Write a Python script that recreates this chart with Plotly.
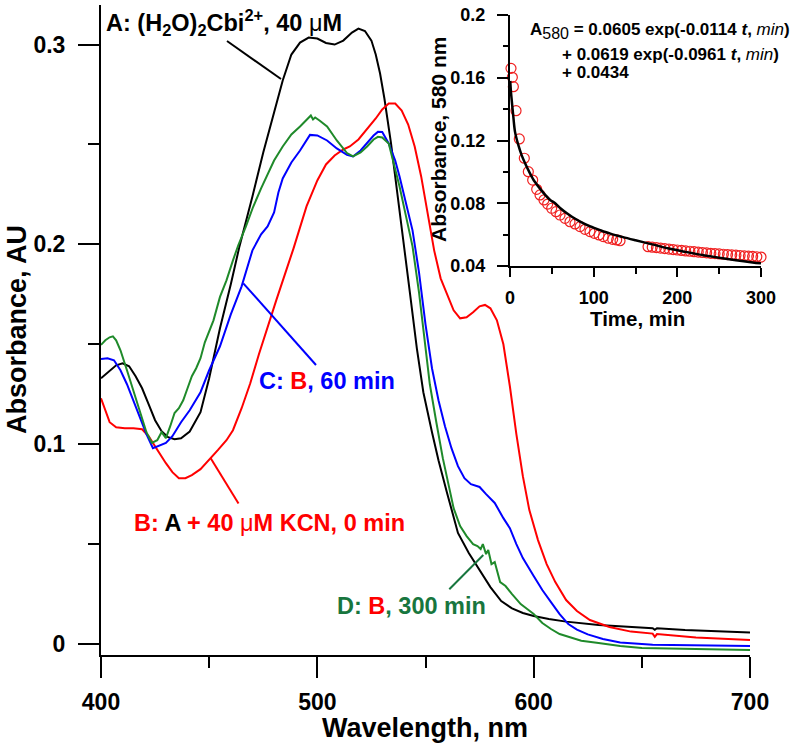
import plotly.graph_objects as go

# ---------------- data ----------------
wl_A = [400, 404, 407, 410, 413, 416, 419, 422, 425, 428, 431, 434, 437, 441, 446, 450, 455, 460, 464, 470, 475,
        480, 484, 488, 492, 496, 500, 504, 508, 512, 516, 519, 522, 525, 527, 529, 531, 534, 537, 540, 543, 546,
        549, 553, 556, 560, 565, 570, 575, 580, 585, 590, 595, 600, 607, 615, 630, 645, 655, 656, 657, 670, 685, 700]
abs_A = [0.133, 0.137, 0.1395, 0.1405, 0.139, 0.134, 0.128, 0.120, 0.112, 0.1065, 0.1035, 0.1025, 0.103, 0.1063,
         0.116, 0.133, 0.158, 0.180, 0.199, 0.224, 0.246, 0.266, 0.282, 0.295, 0.301, 0.3035, 0.303, 0.3008, 0.300,
         0.302, 0.306, 0.308, 0.3068, 0.302, 0.295, 0.2855, 0.273, 0.251, 0.226, 0.201, 0.174, 0.148, 0.126, 0.106,
         0.092, 0.0755, 0.0556, 0.0455, 0.037, 0.0285, 0.0215, 0.0178, 0.0155, 0.014, 0.0125, 0.0112, 0.0095,
         0.0085, 0.0079, 0.0071, 0.0079, 0.007, 0.0063, 0.0057]

wl_B = [400, 402, 404, 407, 411, 415, 419, 422, 426, 430, 433, 436, 439, 442, 446, 450, 454, 458, 461, 465, 469,
        473, 477, 481, 485, 489, 495, 500, 504, 508, 512, 515, 519, 523, 527, 530, 533, 536, 539, 542, 545, 548,
        551, 554, 557, 560, 563, 566, 569, 572, 575, 577.5, 580, 583, 586, 589, 592, 595, 598, 602, 606, 610, 615,
        620, 626, 635, 645, 655, 656, 657, 675, 700]
abs_B = [0.123, 0.117, 0.111, 0.1085, 0.108, 0.108, 0.1075, 0.104, 0.097, 0.0905, 0.086, 0.083, 0.083, 0.0845,
         0.0875, 0.092, 0.097, 0.102, 0.107, 0.118, 0.1305, 0.145, 0.159, 0.172, 0.185, 0.198, 0.219, 0.232, 0.240,
         0.2445, 0.2475, 0.249, 0.2525, 0.2575, 0.263, 0.2675, 0.2705, 0.2705, 0.267, 0.260, 0.249, 0.234, 0.215,
         0.197, 0.183, 0.1745, 0.167, 0.163, 0.1635, 0.166, 0.169, 0.1697, 0.168, 0.162, 0.150, 0.129, 0.105, 0.084,
         0.067, 0.052, 0.040, 0.031, 0.022, 0.0165, 0.012, 0.0085, 0.0062, 0.0052, 0.0036, 0.005, 0.0032, 0.002]

wl_C = [400, 403, 406, 409, 412, 415, 418, 421, 424, 427, 430, 433, 437, 441, 446, 450, 455, 460, 465, 470, 474,
        477, 480, 482, 484, 488, 492, 496.6, 500, 504.5, 509, 513.7, 516.5, 520, 523, 526, 528, 530, 533, 536,
        538, 541, 544, 547, 550, 553, 556, 559, 562, 565, 568, 571, 575, 578, 582, 586, 589, 592, 595, 600, 604,
        608, 612, 616, 620, 625, 632, 640, 655, 700]
abs_C = [0.1426, 0.143, 0.142, 0.137, 0.130, 0.122, 0.114, 0.105, 0.098, 0.0995, 0.1006, 0.104, 0.111, 0.117,
         0.126, 0.137, 0.149, 0.165, 0.179, 0.197, 0.205, 0.209, 0.216, 0.226, 0.233, 0.241, 0.247, 0.2548, 0.2545,
         0.252, 0.248, 0.2448, 0.244, 0.247, 0.2507, 0.2545, 0.2563, 0.2562, 0.2505, 0.242, 0.234, 0.221, 0.207,
         0.186, 0.160, 0.138, 0.122, 0.109, 0.098, 0.089, 0.083, 0.080, 0.0786, 0.075, 0.0706, 0.063, 0.058, 0.050,
         0.043, 0.034, 0.027, 0.021, 0.015, 0.010, 0.0072, 0.0048, 0.0025, 0.0008, -0.0004, -0.001]

wl_D = [400, 402, 404, 405.5, 407, 409, 412, 415, 418, 421, 423.5, 426, 428, 430, 432, 434, 436, 438, 440, 442,
        444, 446, 448, 450, 452, 455, 458, 461, 463.5, 467, 470.3, 474, 477, 480, 484, 488, 492, 495, 497, 498,
        499, 501, 504.5, 509, 513.7, 516.5, 520, 523, 526, 528, 530, 533, 536, 538, 541, 544, 547, 549, 552, 555,
        558, 561, 563, 566, 569, 572, 574, 575.5, 576.5, 578, 579, 580.5, 582, 584.5, 587, 590, 594, 597, 600, 604,
        608, 612, 616, 622, 630, 640, 650, 675, 700]
abs_D = [0.1497, 0.152, 0.1535, 0.154, 0.152, 0.147, 0.137, 0.127, 0.116, 0.106, 0.1006, 0.102, 0.106, 0.103,
         0.109, 0.1156, 0.118, 0.122, 0.128, 0.134, 0.138, 0.143, 0.151, 0.157, 0.162, 0.1737, 0.182, 0.192, 0.1997,
         0.209, 0.2187, 0.228, 0.235, 0.242, 0.249, 0.255, 0.259, 0.2625, 0.2645, 0.2625, 0.2635, 0.262, 0.259,
         0.252, 0.2457, 0.244, 0.246, 0.249, 0.2525, 0.2538, 0.2535, 0.2505, 0.238, 0.229, 0.214, 0.199, 0.176,
         0.157, 0.130, 0.111, 0.093, 0.078, 0.068, 0.059, 0.054, 0.050, 0.049, 0.0475, 0.050, 0.045, 0.047, 0.040,
         0.041, 0.031, 0.029, 0.025, 0.020, 0.0175, 0.015, 0.0105, 0.0075, 0.005, 0.0035, 0.0016, 0.0005, -0.001,
         -0.002, -0.0025, -0.003]

# inset: absorbance at 580 nm vs time
t_obs = [1.2, 2.8, 4.0, 7.2, 11.1, 17.1, 21.9, 27.1, 31.9, 35.9, 40.6, 45.0, 49.8, 55.0, 59.8, 65.7, 71.7, 77.7,
         83.7, 89.6, 95.6, 100.8, 106.4, 111.5, 117.5, 122.7, 127.5, 131.5,
         165, 170, 175, 180, 185, 190, 195, 200, 205, 210, 215, 220, 225, 230, 235, 240, 245, 250, 255, 260, 265,
         270, 275, 280, 285, 290, 295, 300]
a_obs = [0.166, 0.1603, 0.1543, 0.139, 0.121, 0.1087, 0.1001, 0.0948, 0.0889, 0.0853, 0.0821, 0.0795, 0.0768,
         0.0746, 0.0725, 0.0704, 0.0682, 0.0668, 0.0651, 0.0634, 0.0619, 0.0608, 0.0598, 0.0587, 0.0577, 0.057,
         0.0566, 0.0561,
         0.0523, 0.0520, 0.0517, 0.0514, 0.0511, 0.0508, 0.0505, 0.0502, 0.0499, 0.0496, 0.0494, 0.0491, 0.0489,
         0.0486, 0.0484, 0.0481, 0.0479, 0.0477, 0.0475, 0.0473, 0.0471, 0.0469, 0.0467, 0.0465, 0.0463, 0.0461,
         0.0459, 0.0457]
t_fit = [0.3, 1, 2, 4, 6, 10, 14, 18, 23, 28, 34, 41, 48, 54, 61, 68, 74, 85, 96, 108, 120, 135, 150, 170, 190,
         210, 230, 250, 270, 290, 300]
a_fit = [0.158, 0.152, 0.146, 0.135, 0.1255, 0.117, 0.1105, 0.1055, 0.100, 0.095, 0.0906, 0.086, 0.0821, 0.080,
         0.0765, 0.0736, 0.0714, 0.0680, 0.0652, 0.0628, 0.0606, 0.0584, 0.0564, 0.0538, 0.0511, 0.0490, 0.0470,
         0.0453, 0.0437, 0.0423, 0.0417]

main_xticks = [400, 500, 600, 700]
main_yticks = [0, 0.1, 0.2, 0.3]
main_yticktext = ["0", "0.1", "0.2", "0.3"]
inset_xticks = [0, 100, 200, 300]
inset_yticks = [0.04, 0.08, 0.12, 0.16, 0.2]
inset_yticktext = ["0.04", "0.08", "0.12", "0.16", "0.2"]

# ---------------- style ----------------
FONT = "Liberation Sans, Arial, Helvetica, sans-serif"
RED = "#ff0000"
BLUE = "#0000ff"
GREEN = "#1f8a2a"
DGREEN = "#18763e"

W, H = 800, 750
L, R, T, B = 101, 39, 5, 95
PW, PH = W - L - R, H - T - B


def px(xp):
    return (xp - L) / PW


def py(yp):
    return (H - B - yp) / PH


fig = go.Figure()
for wl, a, col, name in [(wl_A, abs_A, "black", "A"), (wl_B, abs_B, RED, "B"),
                         (wl_C, abs_C, BLUE, "C"), (wl_D, abs_D, GREEN, "D")]:
    fig.add_trace(go.Scatter(x=wl, y=a, mode="lines", name=name, line=dict(color=col, width=2),
                             xaxis="x", yaxis="y", showlegend=False, hoverinfo="skip"))

fig.add_trace(go.Scatter(x=t_obs, y=a_obs, mode="markers", xaxis="x2", yaxis="y2", showlegend=False,
                         marker=dict(symbol="circle-open", size=10, color="#f02020", line=dict(width=1.2)),
                         cliponaxis=False, hoverinfo="skip"))
fig.add_trace(go.Scatter(x=t_fit, y=a_fit, mode="lines", xaxis="x2", yaxis="y2", showlegend=False,
                         line=dict(color="black", width=2.5, shape="spline", smoothing=0.8),
                         cliponaxis=False, hoverinfo="skip"))

axis_common = dict(showline=True, linewidth=2, linecolor="black", ticks="outside", tickwidth=2,
                   tickcolor="black", showgrid=False, zeroline=False, automargin=False)

fig.update_layout(
    width=W, height=H, margin=dict(l=L, r=R, t=T, b=B, autoexpand=False),
    paper_bgcolor="white", plot_bgcolor="rgba(0,0,0,0)",
    font=dict(family=FONT, color="black"),
    xaxis=dict(domain=[0, px(750)], range=[400, 700], anchor="y", tickvals=main_xticks, ticklen=21,
               tickfont=dict(size=23, weight="bold"), ticklabelstandoff=4,
               minor=dict(tickvals=[450, 550, 650], ticklen=11, tickwidth=2, ticks="outside", tickcolor="black"),
               **axis_common),
    yaxis=dict(domain=[0, 1], range=[-0.0055, 0.3198], anchor="x", tickvals=main_yticks,
               ticktext=main_yticktext, ticklen=21, tickfont=dict(size=23, weight="bold"), ticklabelstandoff=8,
               minor=dict(tickvals=[0.05, 0.15, 0.25], ticklen=11, tickwidth=2, ticks="outside",
                          tickcolor="black"),
               **axis_common),
    xaxis2=dict(domain=[px(510), px(761)], range=[0, 300], anchor="y2", tickvals=inset_xticks, ticklen=9,
                tickfont=dict(size=18, weight="bold"), ticklabelstandoff=5,
                minor=dict(tickvals=[50, 150, 250], ticklen=6, tickwidth=2, ticks="outside", tickcolor="black"),
                **axis_common),
    yaxis2=dict(domain=[py(266), py(15)], range=[0.04, 0.2], anchor="x2", tickvals=inset_yticks,
                ticktext=inset_yticktext, ticklen=11, tickfont=dict(size=18, weight="bold"),
                ticklabelstandoff=8,
                minor=dict(tickvals=[0.06, 0.10, 0.14, 0.18], ticklen=5, tickwidth=2, ticks="outside",
                           tickcolor="black"),
                **axis_common),
)

ann = []


def add_text(xp, yp, text, size, xanchor="left", angle=0, color="black"):
    ann.append(dict(x=px(xp), y=py(yp), xref="paper", yref="paper", text=text, showarrow=False,
                    xanchor=xanchor, yanchor="middle", textangle=angle,
                    font=dict(family=FONT, size=size, color=color, weight="bold")))


MU = "<span style='font-weight:normal'>μ</span>"
add_text(104, 22, "A: (H<sub>2</sub>O)<sub>2</sub>Cbi<sup>2+</sup>, 40 " + MU + "M", 23.5)
add_text(131.7, 523.3, "<span style='color:%s'>B:</span> A <span style='color:%s'>+ 40 %sM KCN, 0 min</span>"
         % (RED, RED, MU), 23.5)
add_text(256.7, 380.8, "<span style='color:%s'>C:</span> <span style='color:%s'>B</span><span style='color:%s'>, 60 min</span>"
         % (BLUE, RED, BLUE), 23.5)
add_text(335, 605.8, "<span style='color:%s'>D:</span> <span style='color:%s'>B</span><span style='color:%s'>, 300 min</span>"
         % (DGREEN, RED, DGREEN), 23.5)

# axis titles
add_text(17, 330, "Absorbance, AU", 27, xanchor="center", angle=-90)
add_text(425, 728, "Wavelength, nm", 27, xanchor="center")
add_text(438, 140, "Absorbance, 580 nm", 21, xanchor="center", angle=-90)
add_text(637.5, 318, "Time, min", 20.5, xanchor="center")

# fit equation
NI = "<span style='font-weight:normal'><i>min</i></span>"
add_text(528.3, 31, "A<sub><span style='font-size:16px;font-weight:normal'>580</span></sub> = 0.0605 exp(-0.0114 <i>t</i>, "
         + NI + ")", 17)
add_text(560, 54.7, "+ 0.0619 exp(-0.0961 <i>t</i>, " + NI + ")", 17)
add_text(560, 72, "+ 0.0434", 17)

fig.update_layout(annotations=ann)

shapes = []
for (x0, y0, x1, y1, col) in [(227, 41, 281, 79, "black"), (243.3, 283.3, 316, 365, BLUE),
                              (210.7, 458.3, 238.5, 503.5, RED), (449.3, 589.3, 483.3, 555, DGREEN)]:
    shapes.append(dict(type="line", xref="paper", yref="paper", x0=px(x0), y0=py(y0), x1=px(x1), y1=py(y1),
                       line=dict(color=col, width=2)))
fig.update_layout(shapes=shapes)

fig.write_html("out.html", config={"displayModeBar": False},
               post_script="document.body.style.margin='0px';document.body.style.overflow='hidden';")
